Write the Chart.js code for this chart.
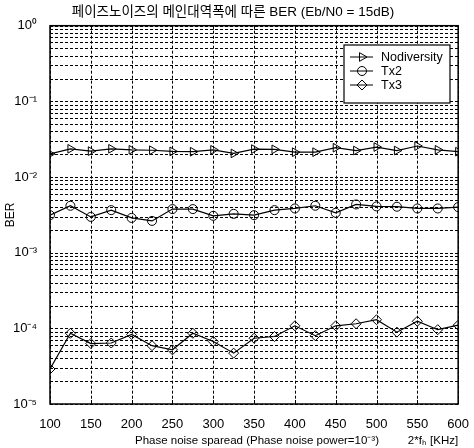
<!DOCTYPE html>
<html>
<head>
<meta charset="utf-8">
<script src="https://cdn.jsdelivr.net/npm/chart.js@4/dist/chart.umd.min.js"></script>
<style>
  html, body { margin: 0; padding: 0; background: #fff; }
  #wrap { width: 474px; height: 448px; }
</style>
</head>
<body>
<div id="wrap"><canvas id="berChart"></canvas></div>
<script>
// data
const spread = [100, 125, 150, 175, 200, 225, 250, 275, 300, 325, 350, 375, 400, 425, 450, 475, 500, 525, 550, 575, 600];
const berNoDiv = [0.0202, 0.0236, 0.0220, 0.0236, 0.0229, 0.0226, 0.0218, 0.0216, 0.0229, 0.0205, 0.0234,
                  0.0232, 0.0213, 0.0213, 0.0244, 0.0224, 0.0249, 0.0224, 0.0257, 0.0229, 0.0216];
const berTx2 = [0.00313, 0.00417, 0.00297, 0.00365, 0.00288, 0.00263, 0.00377, 0.00377, 0.00307, 0.00326, 0.00313,
                0.00365, 0.00384, 0.00417, 0.00336, 0.00434, 0.00409, 0.00405, 0.00384, 0.00384, 0.00400];
const berTx3 = [2.9e-5, 8.6e-5, 6.3e-5, 6.4e-5, 8.3e-5, 5.9e-5, 5.2e-5, 8.6e-5, 6.7e-5, 4.7e-5, 7.4e-5,
                7.8e-5, 1.08e-4, 8.0e-5, 1.08e-4, 1.15e-4, 1.3e-4, 8.9e-5, 1.24e-4, 9.6e-5, 1.1e-4];
const seriesNames = ['Nodiversity', 'Tx2', 'Tx3'];
const xTicks = [100, 150, 200, 250, 300, 350, 400, 450, 500, 550, 600];
const yDecades = [-5, -4, -3, -2, -1, 0];
const yDecadeLabels = ['10⁻⁵', '10⁻⁴', '10⁻³', '10⁻²', '10⁻¹', '10⁰'];

const FONT = "'Liberation Sans Narrow', 'Liberation Sans', 'Noto Sans CJK KR', sans-serif";
const toPts = arr => arr.map((v, i) => ({ x: spread[i], y: v }));

// every log tick, 1..9 x 10^n
const yTickValues = [];
yDecades.forEach(d => {
    for (let m = 1; m <= 9; m++) {
        if (d === 0 && m > 1) break;
        yTickValues.push(m * Math.pow(10, d));
    }
});

// dotted matlab grid, drawn from the scales' own ticks
const dashGrid = {
    id: 'dashGrid',
    beforeDatasetsDraw(chart) {
        const { ctx, chartArea: a, scales } = chart;
        ctx.save();
        ctx.strokeStyle = '#000';
        ctx.lineWidth = 1;
        ctx.setLineDash([3, 2]);
        scales.x.ticks.forEach(t => {
            const px = Math.round(scales.x.getPixelForValue(t.value)) + 0.5;
            ctx.beginPath(); ctx.moveTo(px, a.top); ctx.lineTo(px, a.bottom); ctx.stroke();
        });
        scales.y.ticks.forEach(t => {
            const py = Math.round(scales.y.getPixelForValue(t.value)) + 0.5;
            ctx.beginPath(); ctx.moveTo(a.left, py); ctx.lineTo(a.right, py); ctx.stroke();
        });
        ctx.restore();
    }
};

// box + inside legend
const boxLegend = {
    id: 'boxLegend',
    afterDatasetsDraw(chart) {
        const { ctx, chartArea: a, scales } = chart;
        ctx.save();
        ctx.strokeStyle = '#000';
        ctx.lineWidth = 1.5;
        ctx.setLineDash([]);
        ctx.strokeRect(a.left, a.top, a.right - a.left, a.bottom - a.top);

        // small inward tick marks
        ctx.lineWidth = 1;
        scales.x.ticks.forEach(t => {
            const px = Math.round(scales.x.getPixelForValue(t.value)) + 0.5;
            ctx.beginPath(); ctx.moveTo(px, a.bottom); ctx.lineTo(px, a.bottom - 4); ctx.stroke();
            ctx.beginPath(); ctx.moveTo(px, a.top); ctx.lineTo(px, a.top + 4); ctx.stroke();
        });

        const bx = 344, by = 45, bw = 106, bh = 58;
        ctx.fillStyle = '#fff';
        ctx.fillRect(bx, by, bw, bh);
        ctx.lineWidth = 1.2;
        ctx.strokeRect(bx, by, bw, bh);

        chart.data.datasets.forEach((ds, i) => {
            const y = by + 12 + i * 14;
            ctx.lineWidth = 1;
            ctx.beginPath();
            ctx.moveTo(350, y);
            ctx.lineTo(373, y);
            ctx.stroke();
            ctx.fillStyle = 'rgba(0,0,0,0)';
            Chart.helpers.drawPoint(ctx, {
                pointStyle: ds.pointStyle, rotation: ds.pointRotation || 0,
                radius: ds.pointRadius, borderWidth: 1
            }, 362, y);
            ctx.fillStyle = '#000';
            ctx.font = '12.5px ' + FONT;
            ctx.textBaseline = 'middle';
            ctx.fillText(ds.label, 381, y + 0.5);
        });
        ctx.restore();
    }
};

const common = {
    borderColor: '#000',
    backgroundColor: 'rgba(0,0,0,0)',
    pointBackgroundColor: 'rgba(0,0,0,0)',
    pointBorderColor: '#000',
    borderWidth: 1.2,
    pointBorderWidth: 1,
    tension: 0
};

new Chart(document.getElementById('berChart'), {
    type: 'line',
    data: {
        datasets: [
            Object.assign({}, common, { label: seriesNames[0], data: toPts(berNoDiv), pointStyle: 'triangle', pointRotation: 90, pointRadius: 5 }),
            Object.assign({}, common, { label: seriesNames[1], data: toPts(berTx2), pointStyle: 'circle', pointRadius: 4.5 }),
            Object.assign({}, common, { label: seriesNames[2], data: toPts(berTx3), pointStyle: 'rectRot', pointRadius: 5 })
        ]
    },
    options: {
        responsive: true,
        maintainAspectRatio: false,
        animation: false,
        layout: { padding: { left: 3, right: 11, top: 0, bottom: 0 } },
        plugins: {
            legend: { display: false },
            tooltip: { enabled: false },
            title: {
                display: true,
                text: '페이즈노이즈의 메인대역폭에 따른 BER (Eb/N0 = 15dB)',
                color: '#000',
                font: { family: FONT, size: 13.5, weight: 'normal' },
                padding: { top: 4, bottom: 5.5 }
            }
        },
        scales: {
            x: {
                type: 'linear',
                min: 100,
                max: 600,
                afterBuildTicks: s => { s.ticks = xTicks.map(v => ({ value: v })); },
                afterFit: s => { s.height = 44; },
                grid: { display: false },
                border: { display: false },
                ticks: { color: '#000', font: { family: FONT, size: 13 }, padding: 5, maxRotation: 0 },
                title: {
                    display: true,
                    align: 'end',
                    text: 'Phase noise sparead (Phase noise power=10⁻³)         2*fₕ [KHz]',
                    color: '#000',
                    font: { family: FONT, size: 11.5 },
                    padding: { top: 4, bottom: 0 }
                }
            },
            y: {
                type: 'logarithmic',
                min: 1e-5,
                max: 1,
                afterBuildTicks: s => { s.ticks = yTickValues.map(v => ({ value: v })); },
                afterFit: s => { s.width = 47; },
                grid: { display: false },
                border: { display: false },
                ticks: {
                    color: '#000',
                    font: { family: FONT, size: 13 },
                    padding: 5,
                    autoSkip: false,
                    callback: function(value) {
                        const lg = Math.log10(value);
                        const k = yDecades.indexOf(Math.round(lg));
                        return Math.abs(lg - Math.round(lg)) < 1e-9 && k >= 0 ? yDecadeLabels[k] : '';
                    }
                },
                title: {
                    display: true,
                    text: 'BER',
                    color: '#000',
                    font: { family: FONT, size: 12 },
                    padding: { top: 0, bottom: 2 }
                }
            }
        }
    },
    plugins: [dashGrid, boxLegend]
});
</script>
</body>
</html>
